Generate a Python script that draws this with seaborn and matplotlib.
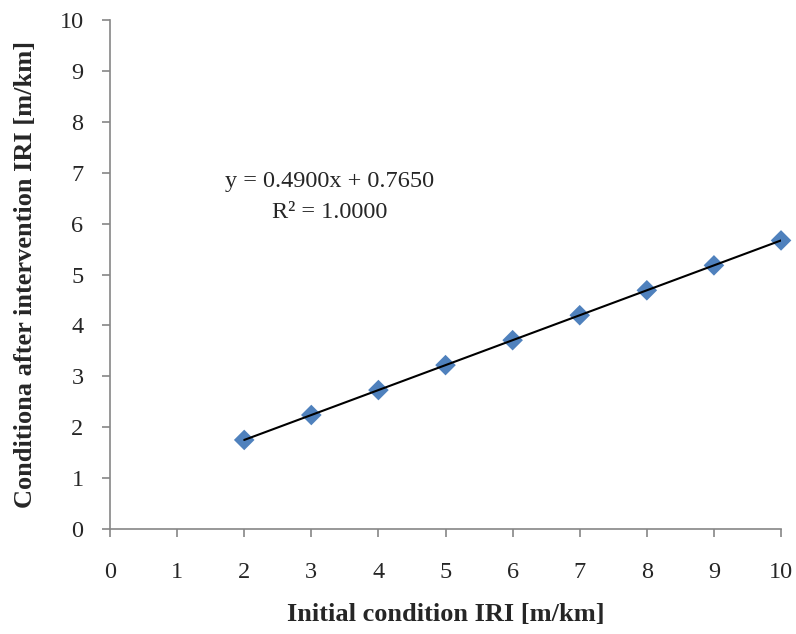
import matplotlib
matplotlib.use("Agg")
import matplotlib.pyplot as plt
import seaborn as sns
import pandas as pd

initial_iri = [2, 3, 4, 5, 6, 7, 8, 9, 10]
after_iri = [1.75, 2.24, 2.73, 3.22, 3.71, 4.20, 4.69, 5.18, 5.67]
x_ticks = [0, 1, 2, 3, 4, 5, 6, 7, 8, 9, 10]
y_ticks = [0, 1, 2, 3, 4, 5, 6, 7, 8, 9, 10]
eq_text = "y = 0.4900x + 0.7650"
r2_text = "R² = 1.0000"
x_label = "Initial condition IRI [m/km]"
y_label = "Conditiona after intervention IRI [m/km]"

sns.set_style("white")
plt.rcParams['font.family'] = ['Liberation Serif', 'DejaVu Serif']

df = pd.DataFrame({"x": initial_iri, "y": after_iri})

fig = plt.figure(figsize=(7.96, 6.34), dpi=100)
ax = fig.add_axes([0.1382, 0.1656, 0.8430, 0.8028])

sns.regplot(data=df, x="x", y="y", ax=ax, ci=None, marker="D",
            scatter_kws=dict(s=110, color="#4F81BD", edgecolors="none", alpha=1,
                             zorder=2, clip_on=False),
            line_kws=dict(color="black", lw=1.5, zorder=3))

ax.set_xlim(0, 10)
ax.set_ylim(0, 10)
ax.set_xticks(x_ticks)
ax.set_yticks(y_ticks)
ax.tick_params(axis="x", direction="out", length=6, width=1.2, color="#868686",
               labelsize=17.5, pad=18, bottom=True)
ax.tick_params(axis="y", direction="out", length=6, width=1.2, color="#868686",
               labelsize=17.5, pad=13, left=True)
for s in ["top", "right"]:
    ax.spines[s].set_visible(False)
for s in ["left", "bottom"]:
    ax.spines[s].set_color("#868686")
    ax.spines[s].set_linewidth(1.2)

ax.set_xlabel(x_label, fontsize=19, fontweight="bold", labelpad=14)
ax.set_ylabel(y_label, fontsize=19, fontweight="bold", labelpad=16)

ax.text(3.27, 6.82, eq_text, ha="center", va="center", fontsize=17.5)
ax.text(3.27, 6.22, r2_text, ha="center", va="center", fontsize=17.5)

fig.savefig("out.png", dpi=100)
